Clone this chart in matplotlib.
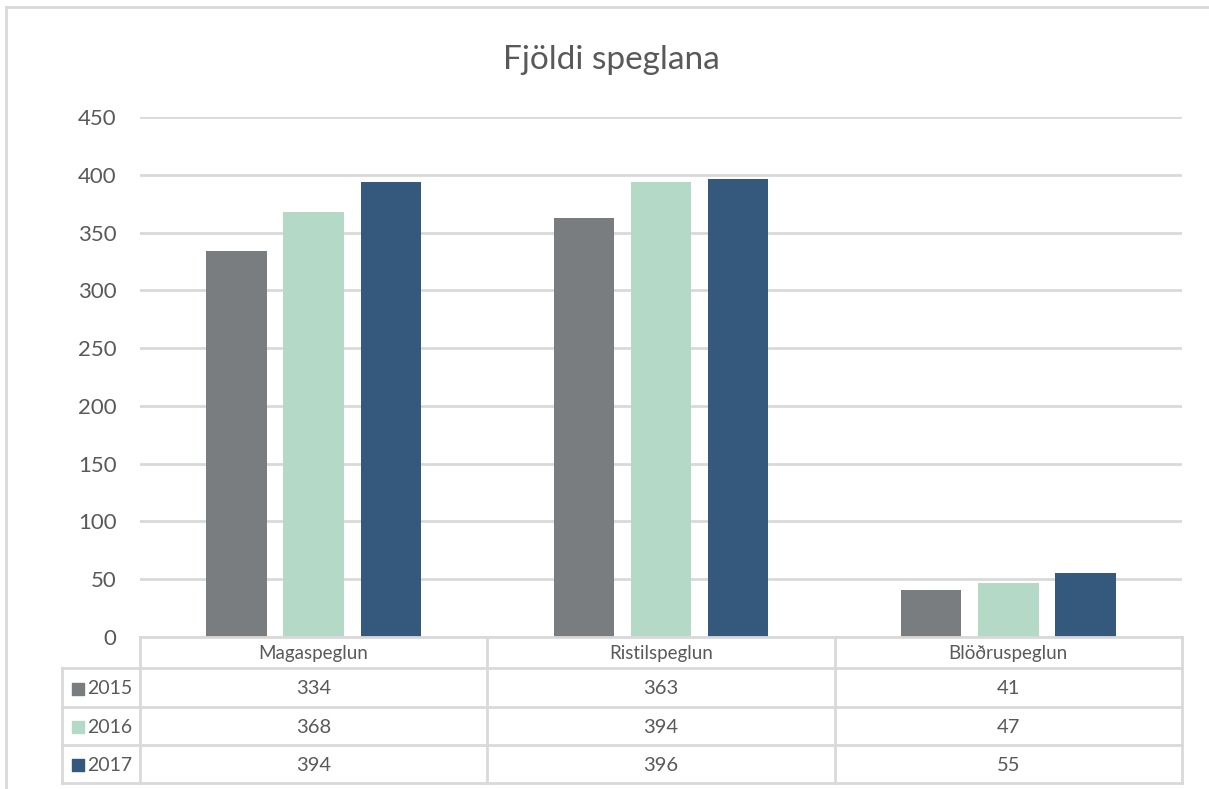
import matplotlib.pyplot as plt
from matplotlib.lines import Line2D

plt.rcParams['font.family'] = ['Lato', 'DejaVu Sans']

categories = ['Magaspeglun', 'Ristilspeglun', 'Blöðruspeglun']
years = ['2015', '2016', '2017']
v2015 = [334, 363, 41]
v2016 = [368, 394, 47]
v2017 = [394, 396, 55]
values = [v2015, v2016, v2017]
colors = ['#797d7f', '#b4d9c7', '#34597c']

txt = '#595959'
grid = '#d9d9d9'

W, H = 1209, 789
fig = plt.figure(figsize=(W / 100, H / 100), dpi=100)

# main plot area
x0, x1 = 140, 1182
y_top, y_bot = 117, 637
ax = fig.add_axes([x0 / W, 1 - y_bot / H, (x1 - x0) / W, (y_bot - y_top) / H])
ax.set_xlim(-0.5, 2.5)
ax.set_ylim(0, 450)
ax.set_yticks(range(0, 451, 50))
ax.yaxis.grid(True, color=grid, linewidth=2)
ax.set_axisbelow(True)
for s in ax.spines.values():
    s.set_visible(False)
ax.set_xticks([])
ax.tick_params(axis='y', length=0, pad=17, labelsize=16, labelcolor=txt)

bw = 0.174
off = 0.222
for i, (vals, c) in enumerate(zip(values, colors)):
    xs = [k + (i - 1) * off for k in range(len(categories))]
    ax.bar(xs, vals, width=bw, color=c, zorder=3)

fig.text(611 / W, 1 - 60 / H, 'Fjöldi speglana', ha='center', va='center',
         fontsize=24, color=txt)

# data table below the plot
t_top, t_bot = 637, 783
tax = fig.add_axes([x0 / W, 1 - t_bot / H, (x1 - x0) / W, (t_bot - t_top) / H])
tax.set_xlim(-0.5, 2.5)
tax.set_ylim(t_bot, t_top)
tax.axis('off')
unit = (x1 - x0) / 3.0
xl = -0.5 - (x0 - 62) / unit
rows = [637, 668, 707, 745, 783]
lw = 2
# header top line and vertical lines
tax.plot([-0.5, 2.5], [rows[0], rows[0]], color=grid, lw=lw, clip_on=False)
for k in range(4):
    tax.plot([k - 0.5, k - 0.5], [rows[0], rows[-1]], color=grid, lw=lw, clip_on=False)
for r in rows[1:]:
    tax.plot([xl, 2.5], [r, r], color=grid, lw=lw, clip_on=False)
tax.plot([xl, xl], [rows[1], rows[-1]], color=grid, lw=lw, clip_on=False)

for k, cat in enumerate(categories):
    tax.text(k, (rows[0] + rows[1]) / 2 + 1, cat, ha='center', va='center',
             fontsize=13.5, color=txt)
for i, (yr, vals, c) in enumerate(zip(years, values, colors)):
    yc = (rows[i + 1] + rows[i + 2]) / 2 + 1
    tax.scatter([xl + 16 / unit], [yc], marker='s', s=80, color=c, clip_on=False)
    tax.text(xl + 25 / unit, yc, yr, ha='left', va='center', fontsize=14, color=txt)
    for k, v in enumerate(vals):
        tax.text(k, yc, str(v), ha='center', va='center', fontsize=14.5, color=txt)

# chart frame (top and left edges visible)
fig.add_artist(Line2D([6 / W, 1], [1 - 7 / H, 1 - 7 / H], color=grid, lw=2))
fig.add_artist(Line2D([6 / W, 6 / W], [1 - 7 / H, 0], color=grid, lw=2))

fig.savefig('out.png', dpi=100)
